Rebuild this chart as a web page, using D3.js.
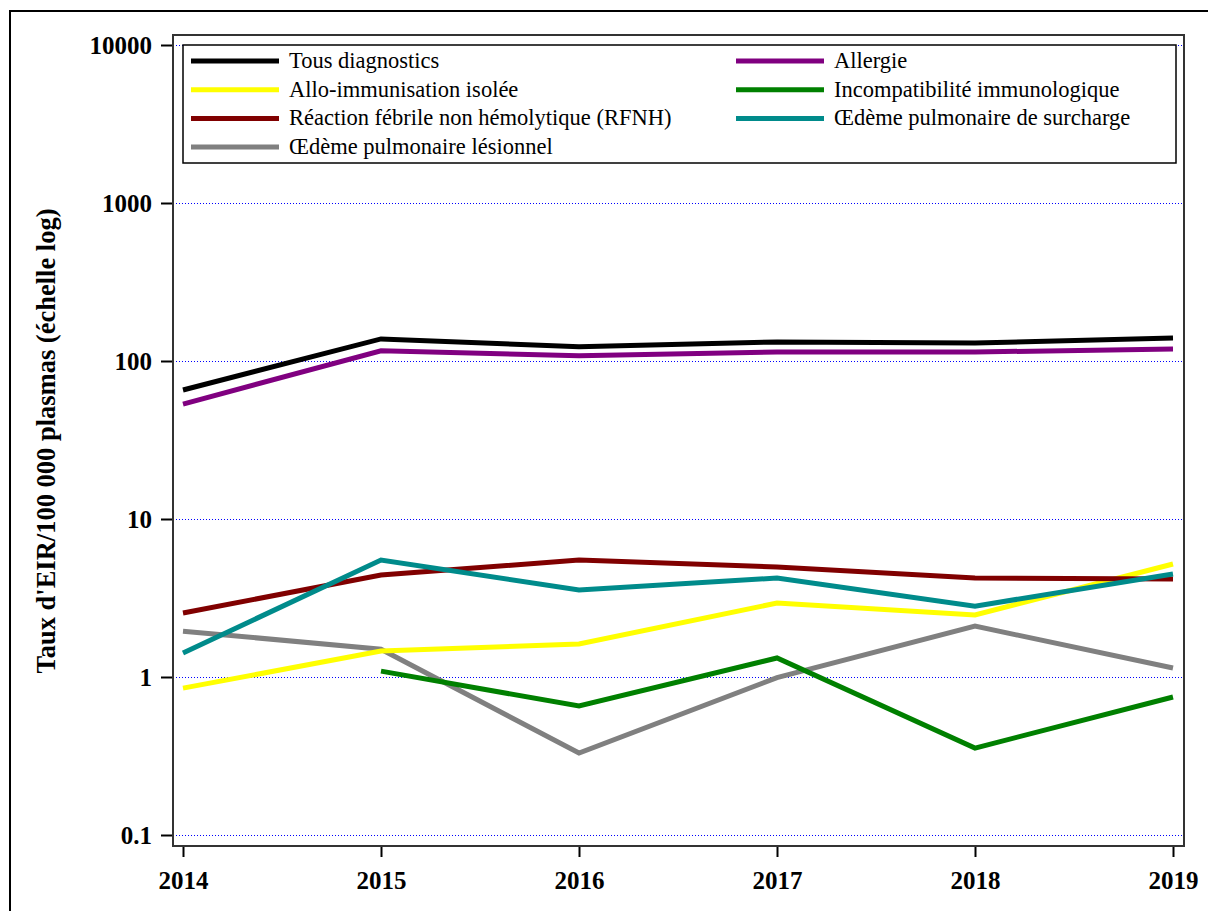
<!DOCTYPE html>
<html>
<head>
<meta charset="utf-8">
<script src="https://cdnjs.cloudflare.com/ajax/libs/d3/7.8.5/d3.min.js"></script>
<style>
  body { margin: 0; background: #fff; }
  svg { display: block; }
</style>
</head>
<body>
<div id="chart"></div>
<script>
// data
var years = [2014, 2015, 2016, 2017, 2018, 2019];
var tousDiagnostics = [65.5, 138, 123, 132, 130, 140];
var allergie = [53.4, 116, 108, 114, 114, 119];
var alloImmunisation = [0.85, 1.46, 1.62, 2.94, 2.47, 5.19];
var incompatibilite = [null, 1.09, 0.655, 1.32, 0.355, 0.747];
var rfnh = [2.54, 4.42, 5.5, 4.97, 4.23, 4.17];
var oapSurcharge = [1.42, 5.5, 3.55, 4.23, 2.81, 4.49];
var oapLesionnel = [1.95, 1.5, 0.33, 0.99, 2.1, 1.14];
var yTicks = [0.1, 1, 10, 100, 1000, 10000];
var yTickLabels = ["0.1", "1", "10", "100", "1000", "10000"];

var series = [
  { name: "Tous diagnostics", values: tousDiagnostics, color: "#000000" },
  { name: "Allergie", values: allergie, color: "#800080" },
  { name: "Allo-immunisation isolée", values: alloImmunisation, color: "#ffff00" },
  { name: "Incompatibilité immunologique", values: incompatibilite, color: "#008000" },
  { name: "Réaction fébrile non hémolytique (RFNH)", values: rfnh, color: "#800000" },
  { name: "Œdème pulmonaire de surcharge", values: oapSurcharge, color: "#008b8b" },
  { name: "Œdème pulmonaire lésionnel", values: oapLesionnel, color: "#808080" }
];
// drawing order (legend order differs)
var drawOrder = [6, 2, 3, 4, 5, 1, 0];

var width = 1208, height = 911;
var frame = { left: 173, top: 35, right: 1184, bottom: 846 };
var serif = 'Liberation Serif';

var svg = d3.select('#chart')
  .append('svg')
  .attr('width', width)
  .attr('height', height);

// outer frame
svg.append('rect')
  .attr('x', 10).attr('y', 11)
  .attr('width', 1300).attr('height', 1000)
  .attr('fill', 'none')
  .attr('stroke', '#000')
  .attr('stroke-width', 2);

var x = d3.scaleLinear().domain([2014, 2019]).range([183, 1173]);
var y = d3.scaleLog().domain([0.1, 10000]).range([835, 45]);

// gridlines
svg.append('g')
  .selectAll('line')
  .data(yTicks)
  .enter()
  .append('line')
  .attr('x1', frame.left).attr('x2', frame.right)
  .attr('y1', function(d) { return Math.round(y(d)) + 0.5; })
  .attr('y2', function(d) { return Math.round(y(d)) + 0.5; })
  .attr('stroke', '#0000ff')
  .attr('stroke-width', 1)
  .attr('stroke-dasharray', '1,2');

// axes
var yAxis = d3.axisLeft(y)
  .tickValues(yTicks)
  .tickFormat(function(d, i) { return yTickLabels[i]; })
  .tickSize(12)
  .tickPadding(9);
var gy = svg.append('g')
  .attr('transform', 'translate(' + frame.left + ',0)')
  .call(yAxis);
gy.select('.domain').remove();
gy.selectAll('line').attr('stroke', '#000').attr('stroke-width', 2);
gy.selectAll('text')
  .attr('font-family', serif)
  .attr('font-size', 25)
  .attr('font-weight', 'bold')
  .attr('fill', '#000');

var xAxis = d3.axisBottom(x)
  .tickValues(years)
  .tickFormat(d3.format('d'))
  .tickSize(11)
  .tickPadding(14);
var gx = svg.append('g')
  .attr('transform', 'translate(0,' + frame.bottom + ')')
  .call(xAxis);
gx.select('.domain').remove();
gx.selectAll('line').attr('stroke', '#000').attr('stroke-width', 2);
gx.selectAll('text')
  .attr('font-family', serif)
  .attr('font-size', 25)
  .attr('font-weight', 'bold')
  .attr('fill', '#000');

// y title
svg.append('text')
  .attr('transform', 'translate(55,' + 441 + ') rotate(-90)')
  .attr('text-anchor', 'middle')
  .attr('font-family', serif)
  .attr('font-size', 26.5)
  .attr('font-weight', 'bold')
  .text("Taux d'EIR/100 000 plasmas (échelle log)");

// lines
var line = d3.line()
  .defined(function(d) { return d.v != null; })
  .x(function(d) { return x(d.year); })
  .y(function(d) { return y(d.v); });

svg.append('g')
  .selectAll('path')
  .data(drawOrder.map(function(i) { return series[i]; }))
  .enter()
  .append('path')
  .attr('d', function(s) {
    return line(years.map(function(yr, j) { return { year: yr, v: s.values[j] }; }));
  })
  .attr('fill', 'none')
  .attr('stroke', function(s) { return s.color; })
  .attr('stroke-width', 5)
  .attr('stroke-linejoin', 'miter');

// plot frame
svg.append('rect')
  .attr('x', frame.left).attr('y', frame.top)
  .attr('width', frame.right - frame.left)
  .attr('height', frame.bottom - frame.top)
  .attr('fill', 'none')
  .attr('stroke', '#333')
  .attr('stroke-width', 2);

// legend
var lg = svg.append('g');
lg.append('rect')
  .attr('x', 183).attr('y', 45)
  .attr('width', 1176 - 183).attr('height', 163 - 45)
  .attr('fill', '#fff')
  .attr('stroke', '#000')
  .attr('stroke-width', 1.5);

var colX = [191, 736];
var legend = lg.selectAll('.legend')
  .data(series)
  .enter()
  .append('g')
  .attr('class', 'legend')
  .attr('transform', function(d, i) {
    return 'translate(' + colX[i % 2] + ',' + (61 + Math.floor(i / 2) * 28.7) + ')';
  });
legend.append('line')
  .attr('x1', 0).attr('x2', 88)
  .attr('y1', 0).attr('y2', 0)
  .attr('stroke', function(d) { return d.color; })
  .attr('stroke-width', 5);
legend.append('text')
  .attr('x', 98)
  .attr('y', 7)
  .attr('font-family', serif)
  .attr('font-size', 22.5)
  .text(function(d) { return d.name; });
</script>
</body>
</html>
